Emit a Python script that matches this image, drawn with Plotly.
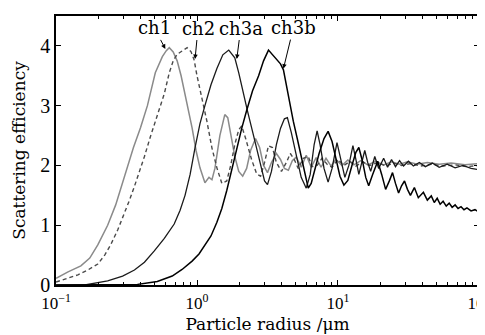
import numpy as np
import plotly.graph_objects as go

# ---- data (x = log10(radius/um), y = scattering efficiency) ----
ch1_logr = [-1.000, -0.915, -0.824, -0.761, -0.704, -0.634, -0.577, -0.535, -0.493, -0.451,
            -0.401, -0.352, -0.296, -0.246, -0.218, -0.197, -0.169, -0.141, -0.113, -0.085,
            -0.056, -0.035, -0.007, 0.021, 0.056, 0.085, 0.106, 0.127, 0.162, 0.197,
            0.218, 0.239, 0.268, 0.296, 0.324, 0.352, 0.380, 0.415, 0.444, 0.472,
            0.500, 0.528, 0.563, 0.592, 0.620, 0.648, 0.676, 0.704, 0.739, 0.775,
            0.810, 0.845, 0.880, 0.915, 0.951, 0.986, 1.028, 1.070, 1.113, 1.162,
            1.211, 1.268, 1.324, 1.380, 1.437, 1.493, 1.563, 1.634, 1.718, 1.803,
            1.901, 2.000]
ch1_q = [0.11, 0.22, 0.32, 0.45, 0.67, 1.00, 1.34, 1.66, 1.96, 2.30,
         2.63, 3.00, 3.55, 3.82, 3.92, 3.97, 3.90, 3.75, 3.50, 3.18,
         2.90, 2.63, 2.25, 1.96, 1.71, 1.80, 1.76, 1.95, 2.50, 2.85,
         2.80, 2.55, 2.15, 1.90, 1.82, 1.95, 2.25, 2.45, 2.30, 2.00,
         1.88, 2.05, 2.20, 2.10, 1.95, 1.92, 2.08, 2.14, 1.97, 2.17,
         1.97, 2.13, 1.97, 2.12, 1.99, 2.10, 2.00, 2.09, 2.01, 2.08,
         2.01, 2.07, 2.01, 2.06, 2.02, 2.06, 2.02, 2.05, 2.02, 2.04,
         2.01, 2.03]

ch2_logr = [-1.000, -0.930, -0.845, -0.775, -0.704, -0.655, -0.613, -0.563, -0.514, -0.479,
            -0.444, -0.408, -0.373, -0.331, -0.282, -0.232, -0.197, -0.169, -0.141, -0.106,
            -0.070, -0.042, -0.021, 0.000, 0.035, 0.070, 0.106, 0.141, 0.176, 0.211,
            0.239, 0.268, 0.296, 0.317, 0.345, 0.387, 0.423, 0.451, 0.479, 0.507,
            0.535, 0.563, 0.599, 0.634, 0.662, 0.690, 0.718, 0.754, 0.789, 0.817,
            0.852, 0.887, 0.923, 0.958, 1.000, 1.042, 1.085, 1.127, 1.176, 1.225,
            1.282, 1.338, 1.394, 1.451, 1.514, 1.585, 1.662, 1.746, 1.831, 1.915,
            2.000]
ch2_q = [0.05, 0.10, 0.17, 0.25, 0.35, 0.50, 0.67, 0.92, 1.20, 1.42,
         1.65, 1.90, 2.15, 2.48, 2.85, 3.20, 3.55, 3.75, 3.86, 3.92,
         3.97, 3.90, 3.77, 3.50, 3.13, 2.74, 2.29, 1.96, 1.70, 1.74,
         2.00, 2.35, 2.60, 2.66, 2.45, 2.10, 1.86, 1.82, 2.05, 2.33,
         2.30, 2.05, 1.90, 2.05, 2.20, 2.10, 1.95, 2.12, 2.15, 1.98,
         2.00, 2.12, 2.02, 1.97, 2.10, 2.00, 2.07, 1.99, 2.06, 2.00,
         2.05, 1.99, 2.04, 2.00, 2.03, 1.99, 2.02, 1.99, 2.01, 1.98,
         2.00]

ch3a_logr = [-1.000, -0.796, -0.634, -0.528, -0.444, -0.373, -0.303, -0.232, -0.162, -0.120,
             -0.085, -0.049, -0.014, 0.021, 0.056, 0.099, 0.141, 0.183, 0.225, 0.246,
             0.268, 0.296, 0.324, 0.359, 0.401, 0.444, 0.479, 0.500, 0.528, 0.563,
             0.592, 0.620, 0.641, 0.669, 0.704, 0.739, 0.775, 0.803, 0.831, 0.852,
             0.873, 0.901, 0.930, 0.958, 0.993, 1.021, 1.049, 1.077, 1.106, 1.127,
             1.148, 1.169, 1.190, 1.211, 1.232, 1.261, 1.289, 1.324, 1.352, 1.380,
             1.408, 1.437, 1.465, 1.500, 1.535, 1.577, 1.620, 1.669, 1.718, 1.775,
             1.831, 1.887, 1.944, 2.000]
ch3a_q = [0.00, 0.00, 0.07, 0.15, 0.25, 0.38, 0.57, 0.78, 1.02, 1.25,
          1.50, 1.85, 2.30, 2.70, 3.00, 3.35, 3.62, 3.85, 3.93, 3.86,
          3.80, 3.55, 3.25, 2.90, 2.50, 2.08, 1.74, 1.68, 1.90, 2.35,
          2.62, 2.78, 2.80, 2.55, 2.15, 1.80, 1.62, 1.85, 2.35, 2.58,
          2.35, 1.95, 1.72, 1.95, 2.38, 2.10, 1.80, 2.00, 2.33, 2.10,
          1.85, 2.05, 2.25, 2.05, 1.90, 2.15, 1.95, 2.12, 1.97, 2.10,
          1.98, 2.08, 1.99, 2.07, 1.99, 2.05, 1.98, 2.04, 1.97, 2.02,
          1.96, 2.00, 1.95, 1.93]

ch3b_logr = [-1.000, -0.634, -0.423, -0.282, -0.176, -0.106, -0.035, 0.014, 0.056, 0.099,
             0.141, 0.176, 0.211, 0.246, 0.282, 0.317, 0.352, 0.394, 0.437, 0.472,
             0.507, 0.535, 0.563, 0.592, 0.613, 0.634, 0.655, 0.683, 0.711, 0.739,
             0.761, 0.789, 0.810, 0.838, 0.866, 0.901, 0.930, 0.958, 0.986, 1.014,
             1.042, 1.070, 1.099, 1.127, 1.148, 1.176, 1.197, 1.218, 1.246, 1.282,
             1.310, 1.338, 1.366, 1.387, 1.408, 1.430, 1.451, 1.472, 1.493, 1.514,
             1.542, 1.570, 1.606, 1.634, 1.662, 1.683, 1.704, 1.725, 1.746, 1.768,
             1.789, 1.810, 1.831, 1.852, 1.873, 1.894, 1.915, 1.944, 1.972, 2.000]
ch3b_q = [0.00, 0.00, 0.01, 0.06, 0.15, 0.26, 0.40, 0.52, 0.66, 0.82,
          1.05, 1.28, 1.58, 1.92, 2.30, 2.62, 2.92, 3.25, 3.50, 3.75,
          3.93, 3.85, 3.78, 3.70, 3.60, 3.35, 3.05, 2.74, 2.45, 2.15,
          1.90, 1.62, 1.70, 1.95, 2.20, 2.45, 2.57, 2.40, 2.10, 1.82,
          1.67, 1.75, 2.00, 2.22, 2.30, 2.05, 1.80, 1.66, 1.85, 2.07,
          1.85, 1.60, 1.75, 1.88, 1.70, 1.54, 1.66, 1.74, 1.60, 1.50,
          1.63, 1.46, 1.55, 1.42, 1.49, 1.38, 1.45, 1.35, 1.40, 1.32,
          1.37, 1.30, 1.34, 1.28, 1.31, 1.26, 1.29, 1.24, 1.26, 1.22]

x_tick_vals = [0.1, 1, 10, 100]
x_tick_text = ["10<sup>−1</sup>", "10<sup>0</sup>", "10<sup>1</sup>", "10<sup>2</sup>"]
x_minor_vals = [m * d for d in (0.1, 1, 10) for m in range(2, 10)]
y_tick_vals = [0, 1, 2, 3, 4]

labels = ["ch1", "ch2", "ch3a", "ch3b"]
label_tip_logr = [-0.225, -0.014, 0.282, 0.613]
label_tip_q = [3.95, 3.78, 3.78, 3.62]
label_dx = [-11, 3, 4, 10]
label_dy = [-21, -31, -31, -41]

FONT = "DejaVu Serif"
TICKFONT = "Liberation Serif"

fig = go.Figure()
series = [
    (ch1_logr, ch1_q, dict(color="#8a8a8a", width=1.5)),
    (ch2_logr, ch2_q, dict(color="#4a4a4a", width=1.4, dash="4px,3px")),
    (ch3a_logr, ch3a_q, dict(color="#1a1a1a", width=1.3)),
    (ch3b_logr, ch3b_q, dict(color="#000000", width=1.5)),
]
for lx, q, line in series:
    fig.add_trace(go.Scatter(x=10 ** np.array(lx), y=q, mode="lines", line=line,
                             showlegend=False, hoverinfo="skip", cliponaxis=True))

for t, lx, q, dx, dy in zip(labels, label_tip_logr, label_tip_q, label_dx, label_dy):
    fig.add_annotation(x=lx, y=q, text=t, showarrow=True, ax=dx, ay=dy,
                       arrowhead=2, arrowsize=0.9, arrowwidth=1, arrowcolor="black",
                       font=dict(family=FONT, size=18, color="black"))

fig.update_layout(
    width=485, height=335,
    margin=dict(l=48, r=14, t=8, b=58),
    paper_bgcolor="white", plot_bgcolor="white",
    font=dict(family=FONT, size=17, color="black"),
)
fig.update_xaxes(
    type="log", range=[-1.0005, 2.0005],
    tickmode="array", tickvals=x_tick_vals, ticktext=x_tick_text,
    ticklabeloverflow="allow", ticklabelstandoff=2,
    ticks="inside", ticklen=5, tickwidth=1, tickcolor="black",
    minor=dict(tickmode="array", tickvals=x_minor_vals, ticks="inside", ticklen=3,
               tickwidth=1, tickcolor="black", showgrid=False),
    showline=True, linecolor="black", linewidth=1.5, mirror="ticks",
    showgrid=False, zeroline=False, automargin=False,
    title=dict(text="Particle radius /μm", font=dict(family=FONT, size=17), standoff=6),
    tickfont=dict(family=TICKFONT, size=17),
)
fig.update_yaxes(
    range=[0, 4.5], tickmode="array", tickvals=y_tick_vals,
    ticks="inside", ticklen=5, tickwidth=1, tickcolor="black",
    showline=True, linecolor="black", linewidth=1.5, mirror="ticks",
    showgrid=False, zeroline=False, automargin=False,
    title=dict(text="Scattering efficiency", font=dict(family=FONT, size=17), standoff=10),
    tickfont=dict(family=TICKFONT, size=20),
)

fig.write_html("out.html")
